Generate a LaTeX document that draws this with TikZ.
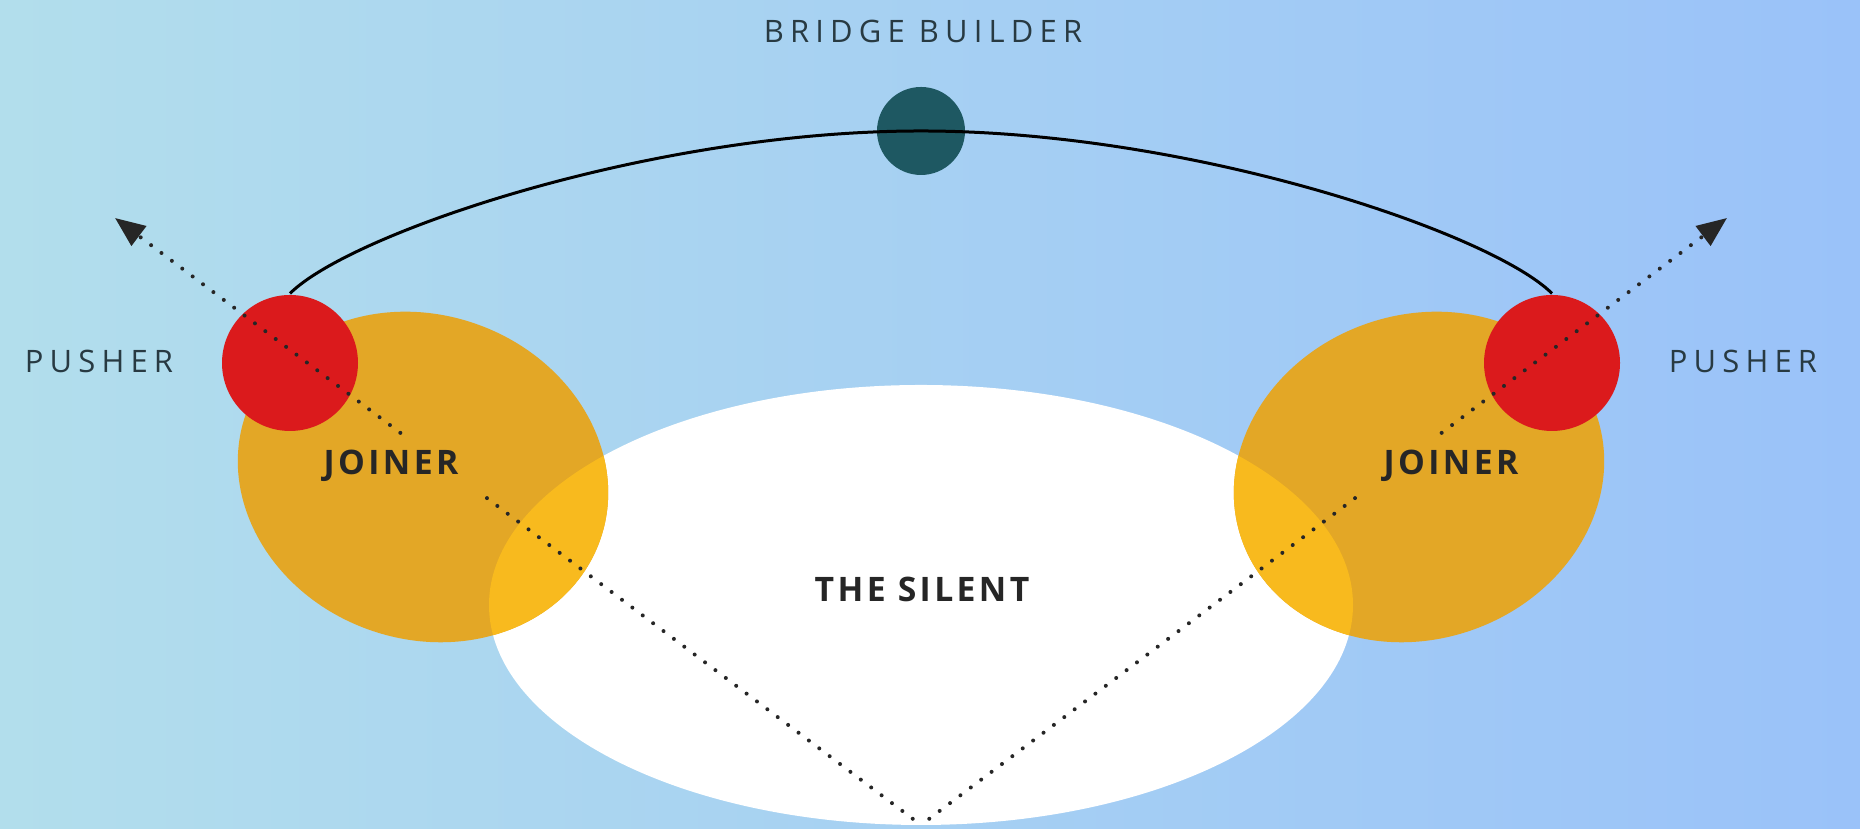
\documentclass[tikz,border=0pt]{standalone}
\usepackage{fontspec}
\setmainfont{Open Sans}
\newfontfamily\widefont[LetterSpace=20]{Open Sans}
\newfontfamily\boldfont[LetterSpace=10]{Open Sans}
\usetikzlibrary{shapes.geometric,arrows.meta,calc}
\definecolor{skyL}{RGB}{178,222,236}
\definecolor{skyR}{RGB}{154,194,249}
\definecolor{joinorange}{RGB}{227,167,38}
\definecolor{joinyellow}{RGB}{248,186,30}
\definecolor{pushred}{RGB}{219,26,28}
\definecolor{bridgeteal}{RGB}{30,88,98}
\definecolor{labelslate}{RGB}{40,58,66}
\tikzset{
  dotline/.style={line width=.4mm,dash pattern=on 0pt off 1.3mm,line cap=round,draw=black!85},
  pushnode/.style={circle,fill=pushred,minimum size=13.6mm,inner sep=0pt},
  joinnode/.style={ellipse,fill=joinorange,minimum width=37.6mm,minimum height=32.4mm,inner sep=0pt},
  lbl/.style={font=\widefont\fontsize{8.8}{10}\selectfont,text=labelslate,anchor=base},
  boldlbl/.style={font=\boldfont\bfseries\fontsize{9.6}{11}\selectfont,text=black!85,anchor=base}
}
\begin{document}
\begin{tikzpicture}[x=.1mm,y=.1mm,line width=.3mm]
\useasboundingbox (0,0) rectangle (1860,829);
\fill[left color=skyL,right color=skyR] (0,0) rectangle (1860,829);
\node[ellipse,fill=white,minimum width=86.4mm,minimum height=44mm,inner sep=0pt] (silent) at (921,224) {};
\node[joinnode,rotate=-20] (joinL) at (423,352) {};
\node[joinnode,rotate=20] (joinR) at (1419,352) {};
\begin{scope}
\clip (silent.center) ellipse [x radius=432,y radius=220];
\fill[joinyellow,shift={(423,352)},rotate=-20] (0,0) ellipse [x radius=188,y radius=162];
\fill[joinyellow,shift={(1419,352)},rotate=20] (0,0) ellipse [x radius=188,y radius=162];
\end{scope}
\node[pushnode] (pushL) at (290,466) {};\node[pushnode] (pushR) at (1552,466) {};
\node[circle,fill=bridgeteal,minimum size=8.8mm,inner sep=0pt] (bridge) at (921,698) {};
\draw (pushL.north) .. controls +(60,60) and +(-271,0) .. (bridge.center) .. controls +(271,0) and +(-60,60) .. (pushR.north);
\coordinate (tipL) at (115,611);\coordinate (tipR) at (1727,611);\coordinate (vtx) at (921,4);
\draw[dotline,-{Triangle[length=3mm,width=2.4mm]}] ($(tipL)!.354!(vtx)$) -- (tipL);
\draw[dotline] ($(tipL)!.4615!(vtx)$) -- (vtx);
\draw[dotline,-{Triangle[length=3mm,width=2.4mm]}] ($(tipR)!.354!(vtx)$) -- (tipR);
\draw[dotline] ($(tipR)!.4615!(vtx)$) -- (vtx);
\node[lbl] (bbtext) at (923,786) {BRIDGE BUILDER};
\node[lbl] (pushLtext) at (99,456) {PUSHER};\node[lbl] (pushRtext) at (1743,456) {PUSHER};
\node[boldlbl] (joinLtext) at (391,354) {JOINER};\node[boldlbl] (joinRtext) at (1451,354) {JOINER};
\node[boldlbl] (silenttext) at (922,227) {THE SILENT};
\end{tikzpicture}
\end{document}
